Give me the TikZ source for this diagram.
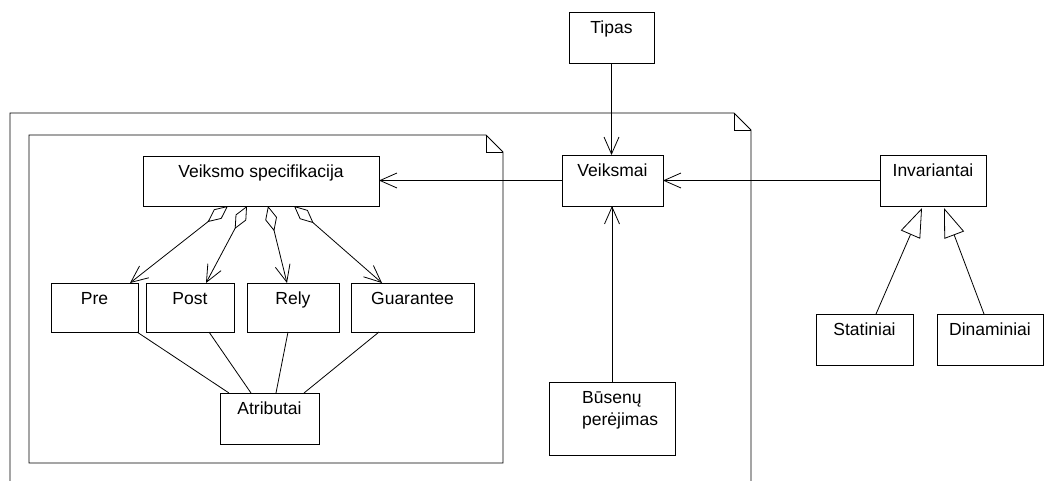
\documentclass[tikz,border=0pt]{standalone}
\usepackage{fontspec}
\setmainfont{Liberation Sans}
\usetikzlibrary{arrows.meta}

\tikzset{
  cls/.style={draw, line width=0.8pt, outer sep=0pt, inner sep=0pt, anchor=north west},
  title/.style={anchor=base, yshift=-21pt, inner sep=0pt, font=\fontsize{17.5}{22}\selectfont},
  txt/.style={anchor=base west, inner sep=0pt, font=\fontsize{17.5}{22}\selectfont},
  frame/.style={draw, line width=0.8pt},
  link/.style={line width=0.8pt},
  nav/.style={link, -{Straight Barb[length=17pt,width=15pt,line width=0.8pt]}},
  agg/.style={link, {Diamond[open,length=26pt,width=12pt,line width=0.8pt]}-{Straight Barb[length=17pt,width=15pt,line width=0.8pt]}},
  gen/.style={link, -{Triangle[open,length=29pt,width=21pt,line width=0.8pt]}}
}

% class box: name, x, y, width, height, title
\newcommand{\classbox}[6]{%
  \node[cls, minimum width=#4pt, minimum height=#5pt,
        label={[title]north:#6}] (#1) at (#2,#3) {};}

\begin{document}
\begin{tikzpicture}[x=1pt,y=-1pt]
\useasboundingbox (0,0) rectangle (1062,480);
\clip (0,0) rectangle (1062,480);

% outer package
\draw[frame] (10,490) -- (10,113) -- (734,113) -- (751,130) -- (751,490);
\draw[frame] (734,113) -- (734,130) -- (751,130);

% inner package
\draw[frame] (29,135) -- (486,135) -- (503,152) -- (503,463) -- (29,463) -- cycle;
\draw[frame] (486,135) -- (486,152) -- (503,152);

% classes
\classbox{spec}{143}{156}{236}{50}{Veiksmo specifikacija}
\classbox{pre}{51}{283}{87}{49}{Pre}
\classbox{post}{146}{283}{88}{49}{Post}
\classbox{rely}{247}{283}{92}{49}{Rely}
\classbox{guar}{351}{283}{123}{49}{Guarantee}
\classbox{attr}{220}{393}{99}{51}{Atributai}
\classbox{tipas}{569}{12}{85}{51}{Tipas}
\classbox{veik}{562}{155}{101}{51}{Veiksmai}
\classbox{inv}{880}{155}{106}{51}{Invariantai}
\classbox{stat}{816}{314}{97}{51}{Statiniai}
\classbox{dyn}{937}{314}{106}{51}{Dinaminiai}
\classbox{bus}{549}{382}{126}{73}{}
\node[txt] (bus1) at ([xshift=33pt,yshift=-21pt]bus.north west) {Būsenų};
\node[txt] (bus2) at ([xshift=33pt,yshift=-43pt]bus.north west) {perėjimas};

% associations
\draw[nav] (tipas.south) -- (tipas.south |- veik.north);
\draw[nav] (bus.north) -- (bus.north |- veik.south);
\draw[nav] (inv.west) -- (veik.east);
\draw[nav] (veik.west) -- (veik.west -| spec.east);

% aggregations
\draw[agg] ([xshift=85pt]spec.south west) -- ([xshift=-8pt]pre.north east);
\draw[agg] ([xshift=104pt]spec.south west) -- ([xshift=60pt]post.north west);
\draw[agg] ([xshift=125pt]spec.south west) -- ([xshift=40pt]rely.north west);
\draw[agg] ([xshift=151pt]spec.south west) -- ([xshift=31pt]guar.north west);

% attribute links
\draw[link] ([xshift=-1pt]pre.south east) -- ([xshift=9pt]attr.north west);
\draw[link] ([xshift=63pt]post.south west) -- ([xshift=31pt]attr.north west);
\draw[link] ([xshift=41pt]rely.south west) -- ([xshift=56pt]attr.north west);
\draw[link] ([xshift=28pt]guar.south west) -- ([xshift=84pt]attr.north west);

% generalizations
\draw[gen] ([xshift=60pt]stat.north west) -- ([xshift=42pt,yshift=-2pt]inv.south west);
\draw[gen] ([xshift=47pt]dyn.north west) -- ([xshift=64pt,yshift=-2pt]inv.south west);
\end{tikzpicture}
\end{document}
